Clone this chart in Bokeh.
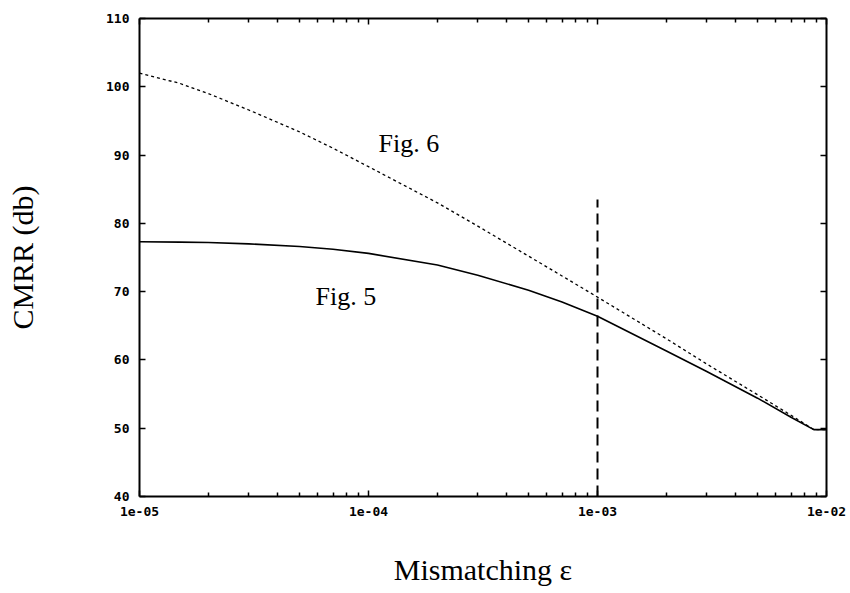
from bokeh.plotting import figure
from bokeh.models import (LogAxis, LinearAxis, FixedTicker, CustomJSTickFormatter,
                          Label, ColumnDataSource)
from bokeh.embed import file_html
from bokeh.resources import INLINE

# ---- data ----
eps = [1e-5, 1.5e-5, 2e-5, 3e-5, 5e-5, 7e-5, 1e-4, 2e-4, 3e-4, 5e-4, 7e-4,
       1e-3, 2e-3, 3e-3, 5e-3, 7e-3, 8.8e-3, 1e-2]
cmrr_fig6 = [102.0, 100.5, 99.0, 96.6, 93.4, 91.0, 88.3, 83.0, 79.6, 75.2, 72.3,
             69.2, 63.1, 59.4, 54.9, 51.9, 49.8, 49.8]
cmrr_fig5 = [77.3, 77.25, 77.2, 77.0, 76.6, 76.2, 75.6, 73.9, 72.4, 70.2, 68.5,
             66.4, 61.3, 58.3, 54.4, 51.6, 49.8, 49.8]

marker_x = [1e-3, 1e-3]
marker_y = [40, 83.5]

x_ticks = [1e-5, 1e-4, 1e-3, 1e-2]
x_tick_labels = ["1e-05", "1e-04", "1e-03", "1e-02"]
x_minor = [m * d for d in [1e-5, 1e-4, 1e-3] for m in range(2, 10)]
y_ticks = [40, 50, 60, 70, 80, 90, 100, 110]

p = figure(width=850, height=593, x_axis_type="log",
           x_range=(1e-5, 1e-2), y_range=(40, 110),
           output_backend="svg", toolbar_location=None,
           min_border_left=139, min_border_right=24,
           min_border_top=18, min_border_bottom=97)
p.xgrid.visible = False
p.ygrid.visible = False
p.outline_line_color = None
p.background_fill_color = "white"
p.border_fill_color = "white"

src5 = ColumnDataSource(dict(x=eps, y=cmrr_fig5))
src6 = ColumnDataSource(dict(x=eps, y=cmrr_fig6))
p.line("x", "y", source=src5, line_color="black", line_width=1.6)
p.line("x", "y", source=src6, line_color="black", line_width=1.3, line_dash="3 3")
p.line(marker_x, marker_y, line_color="black", line_width=2, line_dash="11 6")

xticker = FixedTicker(ticks=x_ticks, minor_ticks=x_minor)
yticker = FixedTicker(ticks=y_ticks, minor_ticks=[])

def style(ax):
    ax.axis_line_width = 2
    ax.axis_line_color = "black"
    ax.major_tick_in = 6
    ax.major_tick_out = 0
    ax.minor_tick_in = 4
    ax.minor_tick_out = 0
    ax.major_tick_line_width = 1.5
    ax.minor_tick_line_width = 1.5
    ax.major_label_text_font = "DejaVu Sans Mono"
    ax.major_label_text_font_style = "bold"
    ax.major_label_text_font_size = "13px"
    ax.major_label_text_color = "black"
    ax.axis_label_text_font = "Liberation Serif"
    ax.axis_label_text_font_style = "normal"
    ax.axis_label_text_color = "black"

xa = p.xaxis[0]
xa.ticker = xticker
xa.formatter = CustomJSTickFormatter(args=dict(labels=x_tick_labels),
                                     code="return labels[index];")
style(xa)
xa.major_label_standoff = 10
xa.axis_label = "Mismatching \u03b5"
xa.axis_label_text_font_size = "30px"
xa.axis_label_standoff = 34

ya = p.yaxis[0]
ya.ticker = yticker
style(ya)
ya.major_label_standoff = 10
ya.axis_label = "CMRR (db)"
ya.axis_label_text_font_size = "30px"
ya.axis_label_standoff = 64

top = LogAxis(ticker=xticker)
style(top)
top.major_label_text_font_size = "1px"
top.major_label_text_color = None
top.major_label_standoff = 0
p.add_layout(top, "above")

right = LinearAxis(ticker=yticker)
style(right)
right.major_label_text_font_size = "1px"
right.major_label_text_color = None
right.major_label_standoff = 0
p.add_layout(right, "right")

p.add_layout(Label(x=1.107e-4, y=91.7, text="Fig. 6", text_font="Liberation Serif",
                   text_font_size="26px", text_baseline="alphabetic", text_color="black"))
p.add_layout(Label(x=5.87e-5, y=69.3, text="Fig. 5", text_font="Liberation Serif",
                   text_font_size="26px", text_baseline="alphabetic", text_color="black"))

open("out.html", "w").write(file_html(p, INLINE))
